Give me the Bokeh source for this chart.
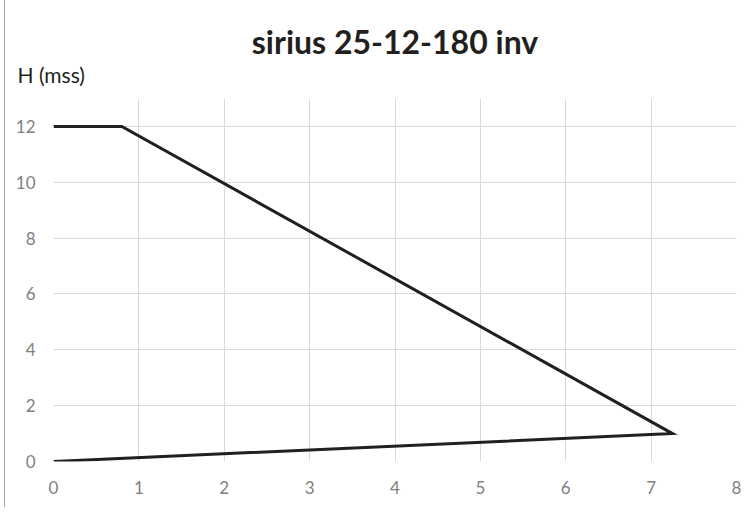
from bokeh.plotting import figure
from bokeh.models import Range1d, FixedTicker, Title
from bokeh.embed import file_html
from bokeh.resources import INLINE

# data
q_values = [0.0, 0.8, 7.25, 0.0]
h_values = [12.0, 12.0, 1.0, 0.0]
x_ticks = [0, 1, 2, 3, 4, 5, 6, 7, 8]
y_ticks = [0, 2, 4, 6, 8, 10, 12]
title_text = "sirius 25-12-180 inv"
y_label_text = "H (mss)"

p = figure(width=740, height=507, output_backend="svg", toolbar_location=None,
           x_range=Range1d(0, 8), y_range=Range1d(0, 13),
           min_border_left=48, min_border_right=9, min_border_top=98, min_border_bottom=46)
p.outline_line_color = None
p.background_fill_color = "white"
p.styles = {"margin-left": "4px", "border-left": "1px solid #a6a6a6"}

p.line(q_values, h_values, line_color="#231f20", line_width=3, line_join="miter")

for ax in (p.xaxis[0], p.yaxis[0]):
    ax.axis_line_color = None
    ax.major_tick_line_color = None
    ax.minor_tick_line_color = None
    ax.major_label_text_color = "#7f7f7f"
    ax.major_label_text_font = "Lato"
    ax.major_label_text_font_size = "17px"
p.xaxis[0].ticker = FixedTicker(ticks=x_ticks)
p.yaxis[0].ticker = FixedTicker(ticks=y_ticks)
p.xaxis[0].major_label_standoff = 13
p.yaxis[0].major_label_standoff = 12

p.xgrid[0].ticker = FixedTicker(ticks=x_ticks)
p.ygrid[0].ticker = FixedTicker(ticks=y_ticks)
p.xgrid[0].grid_line_color = "#d9d9d9"
p.ygrid[0].grid_line_color = "#d9d9d9"

# main chart title (outer)
p.title.text = title_text
p.title.align = "center"
p.title.offset = -7
p.title.standoff = -26
p.title.text_font = "Lato"
p.title.text_font_style = "bold"
p.title.text_font_size = "32px"
p.title.text_color = "#231f20"

# axis-unit label (closest to the frame)
p.add_layout(Title(text=y_label_text, align="left", offset=-36, standoff=24,
                   text_font="Lato", text_font_style="normal", text_font_size="21px",
                   text_color="#231f20"), "above")

open("out.html", "w").write(file_html(p, INLINE))
